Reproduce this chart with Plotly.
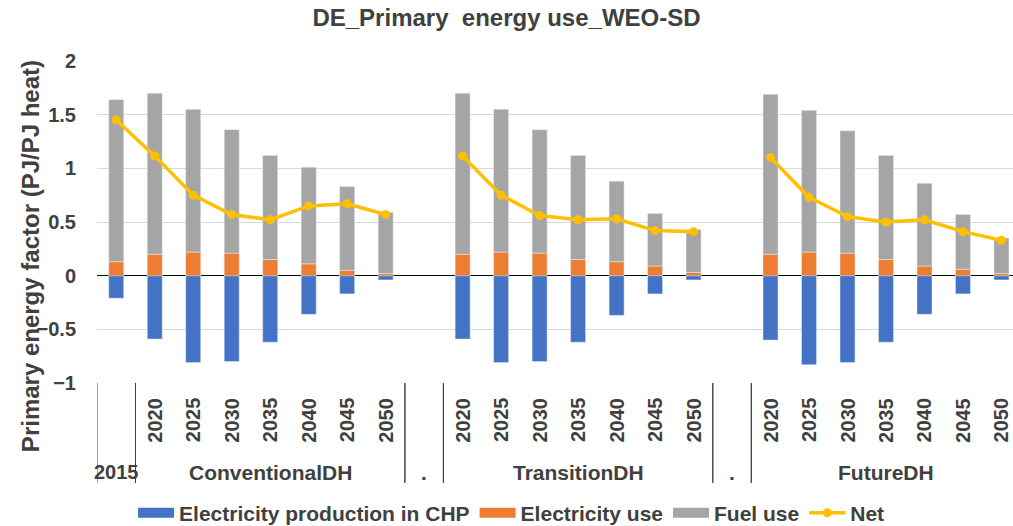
import plotly.graph_objects as go

# categories
groups = ["", "ConventionalDH", ".", "TransitionDH", ".", "FutureDH"]
group_years = [
    ["2015"],
    ["2020", "2025", "2030", "2035", "2040", "2045", "2050"],
    [""],
    ["2020", "2025", "2030", "2035", "2040", "2045", "2050"],
    [""],
    ["2020", "2025", "2030", "2035", "2040", "2045", "2050"],
]

# series (None = empty separator slot)
elec_prod_chp = [-0.21,
                 -0.59, -0.81, -0.80, -0.62, -0.36, -0.17, -0.04,
                 None,
                 -0.59, -0.81, -0.80, -0.62, -0.37, -0.17, -0.04,
                 None,
                 -0.60, -0.83, -0.81, -0.62, -0.36, -0.17, -0.04]
elec_use = [0.13,
            0.20, 0.22, 0.21, 0.15, 0.11, 0.05, 0.02,
            None,
            0.20, 0.22, 0.21, 0.15, 0.13, 0.09, 0.03,
            None,
            0.20, 0.22, 0.21, 0.15, 0.09, 0.06, 0.02]
fuel_use = [1.51,
            1.50, 1.33, 1.15, 0.97, 0.90, 0.78, 0.57,
            None,
            1.50, 1.33, 1.15, 0.97, 0.75, 0.49, 0.40,
            None,
            1.49, 1.32, 1.14, 0.97, 0.77, 0.51, 0.33]
net = [1.45,
       1.115, 0.75, 0.57, 0.52, 0.65, 0.67, 0.57,
       None,
       1.115, 0.75, 0.56, 0.52, 0.53, 0.42, 0.41,
       None,
       1.10, 0.73, 0.55, 0.50, 0.52, 0.41, 0.33]

FONT = "Liberation Sans, Arial, sans-serif"
TXT = "#404040"

x = list(range(len(net)))
bar_series = [
    ("Electricity production in CHP", elec_prod_chp, "#4472C4"),
    ("Electricity use", elec_use, "#ED7D31"),
    ("Fuel use", fuel_use, "#A5A5A5"),
]

fig = go.Figure()
for name, vals, col in bar_series:
    fig.add_trace(go.Bar(x=x, y=vals, name=name, marker_color=col, width=0.39,
                         legendgroup=name, showlegend=False))
    # wide rectangular legend key, like the original
    fig.add_trace(go.Scatter(x=[None], y=[None], mode="lines", name="<b>" + name + "</b>",
                             line=dict(color=col, width=11), legendgroup=name))
fig.add_trace(go.Scatter(x=x, y=net, name="<b>Net</b>", mode="lines+markers",
                         line=dict(color="#FFC000", width=3.5),
                         marker=dict(color="#FFC000", size=9),
                         connectgaps=False))

# category axis drawn by hand: year labels, group labels, dividers
annotations = []
shapes = []
pos = 0
for g, years in zip(groups, group_years):
    start = pos
    for yr in years:
        if g == "":
            annotations.append(dict(x=pos, y=0, xref="x", yref="paper",
                                    text="<b>" + yr + "</b>", showarrow=False,
                                    yanchor="middle", yshift=-89,
                                    font=dict(size=20, color=TXT, family=FONT)))
        elif yr:
            annotations.append(dict(x=pos, y=0, xref="x", yref="paper",
                                    text="<b>" + yr + "</b>", showarrow=False,
                                    textangle=-90, yanchor="middle", yshift=-37,
                                    font=dict(size=20, color=TXT, family=FONT)))
        pos += 1
    if g:
        annotations.append(dict(x=(start + pos - 1) / 2, y=0, xref="x", yref="paper",
                                text="<b>" + g + "</b>", showarrow=False,
                                yanchor="middle", yshift=-89,
                                font=dict(size=21, color=TXT, family=FONT)))
    for bx in (start - 0.5, pos - 0.5):
        if bx < len(net) - 0.5:
            shapes.append(dict(type="line", xref="x", yref="paper", x0=bx, x1=bx,
                               y0=0, y1=-0.31, line=dict(color="#404040", width=1)))

annotations.append(dict(x=0, y=0.394, xref="paper", yref="paper",
                        text="<b>Primary energy factor (PJ/PJ heat)</b>",
                        showarrow=False, textangle=-90, xanchor="center",
                        yanchor="middle", xshift=-67,
                        font=dict(size=24, color=TXT, family=FONT)))

fig.update_layout(
    width=1013, height=526,
    margin=dict(l=97, r=0, t=61, b=143, autoexpand=False),
    paper_bgcolor="white", plot_bgcolor="white",
    barmode="relative",
    title=dict(text="<b>DE_Primary&nbsp; energy use_WEO-SD</b>", x=0.5,
               xanchor="center", y=0.966, yanchor="middle",
               font=dict(size=24, color=TXT, family=FONT)),
    font=dict(family=FONT, color=TXT),
    showlegend=True,
    legend=dict(orientation="h", xref="container", x=0.505, xanchor="center",
                y=-0.404, yanchor="middle",
                font=dict(size=21, color=TXT, family=FONT),
                itemwidth=36, traceorder="normal", tracegroupgap=0),
    annotations=annotations,
    shapes=shapes,
)
fig.update_xaxes(range=[-0.5, 23.3], showticklabels=False, showgrid=False,
                 zeroline=False, showline=False)
fig.update_yaxes(range=[-1, 2], dtick=0.5, showgrid=True, gridcolor="#D9D9D9",
                 gridwidth=1, zeroline=True, zerolinecolor="black", zerolinewidth=1,
                 tickfont=dict(size=20, color=TXT, family=FONT), ticks="",
                 tickprefix="<b>", ticksuffix="</b>", showline=False,
                 ticklabelstandoff=20, automargin=False)

# drop the default page margin so the figure sits at the window's corner
fig.write_html("out.html", config={"displayModeBar": False},
               post_script="document.body.style.margin='0';"
                           "document.body.style.overflow='hidden';")
